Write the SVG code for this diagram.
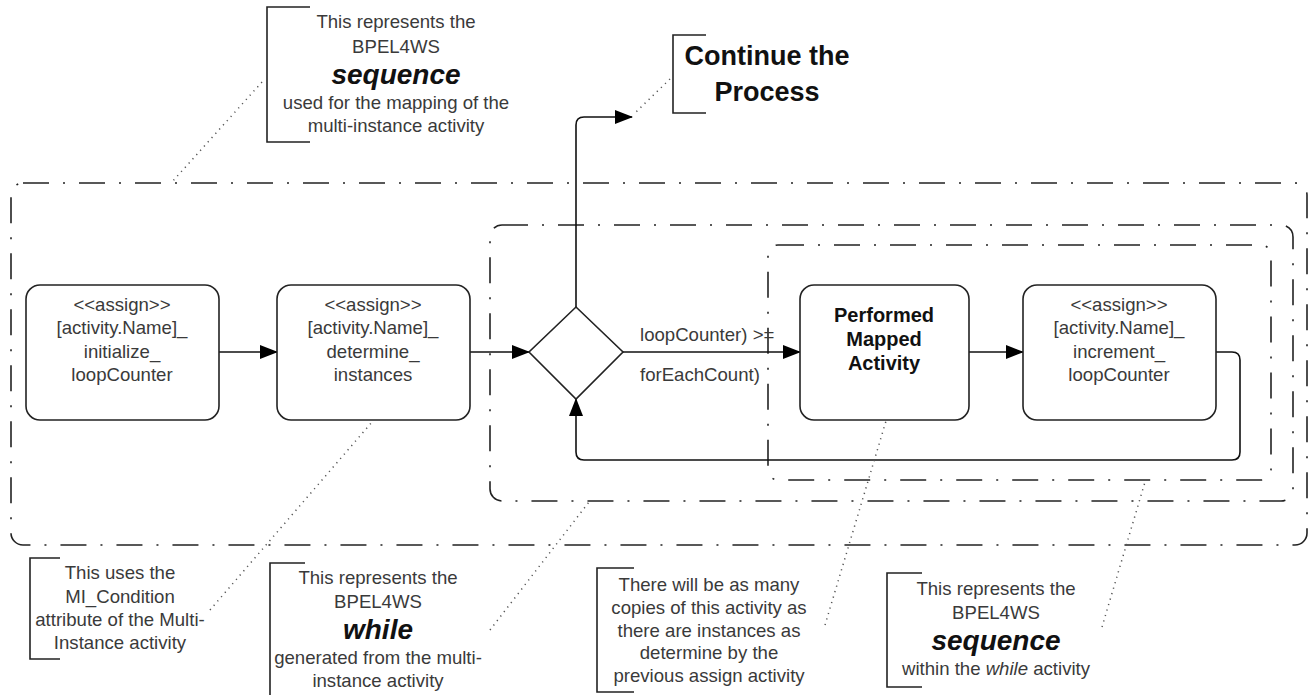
<svg xmlns="http://www.w3.org/2000/svg" width="1309" height="695" viewBox="0 0 1309 695">
<style>
.t{font-family:"Liberation Sans",Arial,sans-serif;font-size:18.6px;fill:#3a3a3a;text-anchor:middle}
.b{font-family:"Liberation Sans",Arial,sans-serif;font-weight:bold;fill:#111;text-anchor:middle}
.bi{font-family:"Liberation Sans",Arial,sans-serif;font-weight:bold;font-style:italic;font-size:28px;fill:#111;text-anchor:middle}
.node{fill:#fff;stroke:#222;stroke-width:1.6}
.grp{fill:none;stroke:#222;stroke-width:1.6;stroke-dasharray:26 14 2 14}
.con{fill:none;stroke:#111;stroke-width:1.6}
.dot{fill:none;stroke:#555;stroke-width:1.5;stroke-dasharray:1.2 4.5}
.br{fill:none;stroke:#222;stroke-width:1.6}
</style>
<defs>
<marker id="arr" markerWidth="18" markerHeight="14" refX="17" refY="7" orient="auto" markerUnits="userSpaceOnUse">
<path d="M0,0 L18,7 L0,14 Z" fill="#000"/>
</marker>
</defs>

<g id="groups">
<rect id="seq-outer" class="grp" x="11" y="183" width="1296" height="362" rx="12"/>
<rect id="while-box" class="grp" x="490" y="225" width="803" height="276" rx="12"/>
<rect id="seq-inner" class="grp" x="768" y="245" width="503" height="235" rx="10"/>
</g>

<g id="connectors">
<line class="con" x1="219" y1="352" x2="277" y2="352" marker-end="url(#arr)"/>
<line class="con" x1="470" y1="352" x2="529" y2="352" marker-end="url(#arr)"/>
<line class="con" x1="623" y1="352" x2="800" y2="352" marker-end="url(#arr)"/>
<line class="con" x1="969" y1="352" x2="1023" y2="352" marker-end="url(#arr)"/>
<path class="con" d="M1216,352 H1232 Q1240,352 1240,360 V452 Q1240,460 1232,460 H584 Q576,460 576,452 V399" marker-end="url(#arr)"/>
<path class="con" d="M576,307 V125 Q576,117 584,117 H632" marker-end="url(#arr)"/>
<text class="t" x="640" y="341" style="text-anchor:start">loopCounter) &gt;=</text>
<text class="t" x="640" y="381" style="text-anchor:start">forEachCount)</text>
</g>

<g id="node-init">
<rect class="node" x="26" y="285" width="193" height="135" rx="14"/>
<text class="t" x="122" y="311">&lt;&lt;assign&gt;&gt;</text>
<text class="t" x="122" y="334">[activity.Name]_</text>
<text class="t" x="122" y="358">initialize_</text>
<text class="t" x="122" y="381">loopCounter</text>
</g>

<g id="node-determine">
<rect class="node" x="277" y="285" width="193" height="135" rx="14"/>
<text class="t" x="373" y="311">&lt;&lt;assign&gt;&gt;</text>
<text class="t" x="373" y="334">[activity.Name]_</text>
<text class="t" x="373" y="358">determine_</text>
<text class="t" x="373" y="381">instances</text>
</g>

<g id="node-decision">
<polygon class="node" points="576,307 623,352 576,399 529,352"/>
</g>

<g id="node-performed">
<rect class="node" x="800" y="285" width="169" height="135" rx="14"/>
<text class="b" x="884" y="322" font-size="20">Performed</text>
<text class="b" x="884" y="346" font-size="20">Mapped</text>
<text class="b" x="884" y="370" font-size="20">Activity</text>
</g>

<g id="node-increment">
<rect class="node" x="1023" y="285" width="193" height="135" rx="14"/>
<text class="t" x="1119" y="311">&lt;&lt;assign&gt;&gt;</text>
<text class="t" x="1119" y="334">[activity.Name]_</text>
<text class="t" x="1119" y="358">increment_</text>
<text class="t" x="1119" y="381">loopCounter</text>
</g>

<g id="note-sequence">
<path class="br" d="M310,7 H267 V142 H310"/>
<line class="dot" x1="262" y1="82" x2="172" y2="182"/>
<text class="t" x="396" y="28">This represents the</text>
<text class="t" x="396" y="53">BPEL4WS</text>
<text class="bi" x="396" y="84">sequence</text>
<text class="t" x="396" y="109">used for the mapping of the</text>
<text class="t" x="396" y="132">multi-instance activity</text>
</g>

<g id="note-continue">
<path class="br" d="M706,35 H673 V113 H706"/>
<line class="dot" x1="670" y1="79" x2="636" y2="112"/>
<text class="b" x="767" y="65" font-size="27">Continue the</text>
<text class="b" x="767" y="101" font-size="27">Process</text>
</g>

<g id="note-condition">
<path class="br" d="M60,558 H30 V659 H60"/>
<line class="dot" x1="210" y1="610" x2="372" y2="422"/>
<text class="t" x="120" y="579">This uses the</text>
<text class="t" x="120" y="603">MI_Condition</text>
<text class="t" x="120" y="626">attribute of the Multi-</text>
<text class="t" x="120" y="649">Instance activity</text>
</g>

<g id="note-while">
<path class="br" d="M305,563 H270 V695"/>
<line class="dot" x1="490" y1="630" x2="589" y2="502"/>
<text class="t" x="378" y="584">This represents the</text>
<text class="t" x="378" y="608">BPEL4WS</text>
<text class="bi" x="378" y="639">while</text>
<text class="t" x="378" y="664">generated from the multi-</text>
<text class="t" x="378" y="687">instance activity</text>
</g>

<g id="note-copies">
<path class="br" d="M634,568 H597 V692 H634"/>
<line class="dot" x1="825" y1="625" x2="886" y2="421"/>
<text class="t" x="709" y="591">There will be as many</text>
<text class="t" x="709" y="614">copies of this activity as</text>
<text class="t" x="709" y="637">there are instances as</text>
<text class="t" x="709" y="659">determine by the</text>
<text class="t" x="709" y="682">previous assign activity</text>
</g>

<g id="note-inner-sequence">
<path class="br" d="M922,573 H887 V687 H922"/>
<line class="dot" x1="1102" y1="627" x2="1145" y2="482"/>
<text class="t" x="996" y="595">This represents the</text>
<text class="t" x="996" y="619">BPEL4WS</text>
<text class="bi" x="996" y="650">sequence</text>
<text class="t" x="996" y="675">within the <tspan font-style="italic">while</tspan> activity</text>
</g>
</svg>
